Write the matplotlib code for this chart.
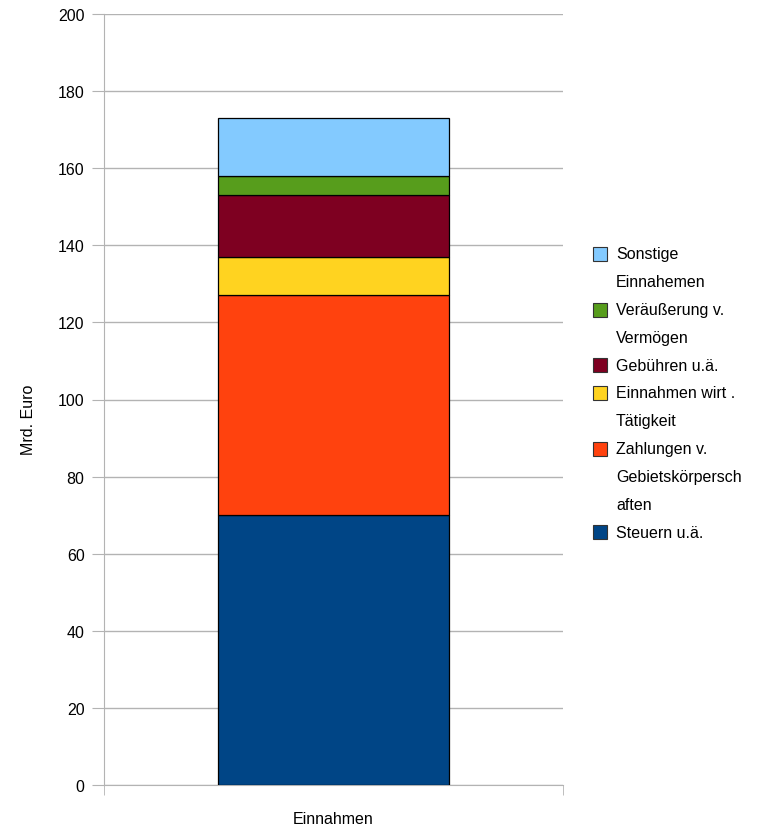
import numpy as np
import matplotlib.pyplot as plt
from matplotlib.patches import Rectangle

plt.rcParams['font.family'] = ['Liberation Sans', 'DejaVu Sans']

category = "Einnahmen"
labels = ["Steuern u.ä.", "Zahlungen v.\nGebietskörpersch\naften", "Einnahmen wirt .\nTätigkeit",
          "Gebühren u.ä.", "Veräußerung v.\nVermögen", "Sonstige\nEinnahemen"]
values = [70, 57, 10, 16, 5, 15]
colors = ["#004586", "#ff420e", "#ffd320", "#7e0021", "#579d1c", "#83caff"]

W, H = 773, 829
fs = 11.5
fig = plt.figure(figsize=(W / 100, H / 100), dpi=100)
ax = fig.add_axes([104 / W, 1 - 786 / H, 459 / W, 771 / H])

bottom = 0
for v, c in zip(values, colors):
    ax.bar(0, v, bottom=bottom, width=0.503, color=c, edgecolor="black", linewidth=0.9, zorder=3)
    bottom += v

ax.set_xlim(-0.5, 0.5)
ax.set_ylim(0, 200)
ax.set_yticks(np.arange(0, 201, 20))
ax.yaxis.grid(True, color="#b3b3b3", linewidth=1.0, zorder=0)
ax.set_xticks([0])
ax.set_xticklabels([category])
ax.set_xticks([-0.5, 0.5], minor=True)
ax.tick_params(axis="x", which="major", length=0, pad=19, labelsize=fs)
ax.tick_params(axis="x", which="minor", length=7, color="#b3b3b3", direction="out")
ax.tick_params(axis="y", length=9, color="#b3b3b3", direction="out", pad=5, labelsize=fs)

for side in ["top", "right"]:
    ax.spines[side].set_visible(False)
for side in ["left", "bottom"]:
    ax.spines[side].set_color("#b3b3b3")

ax.set_ylabel("Mrd. Euro", fontsize=fs)
ax.yaxis.set_label_coords(-0.148, 0.475)

# legend drawn by hand: one line per row, square next to the first line of each entry
row_h = 27.8
y = 255
for lab, c in zip(labels[::-1], colors[::-1]):
    fig.patches.append(Rectangle((593 / W, 1 - (y + 7) / H), 14 / W, 14 / H, transform=fig.transFigure,
                                 facecolor=c, edgecolor="#333333", linewidth=0.8))
    for line in lab.split("\n"):
        fig.text(616 / W, 1 - y / H, line, fontsize=fs, va="center", ha="left")
        y += row_h

fig.savefig("out.png", dpi=100)
